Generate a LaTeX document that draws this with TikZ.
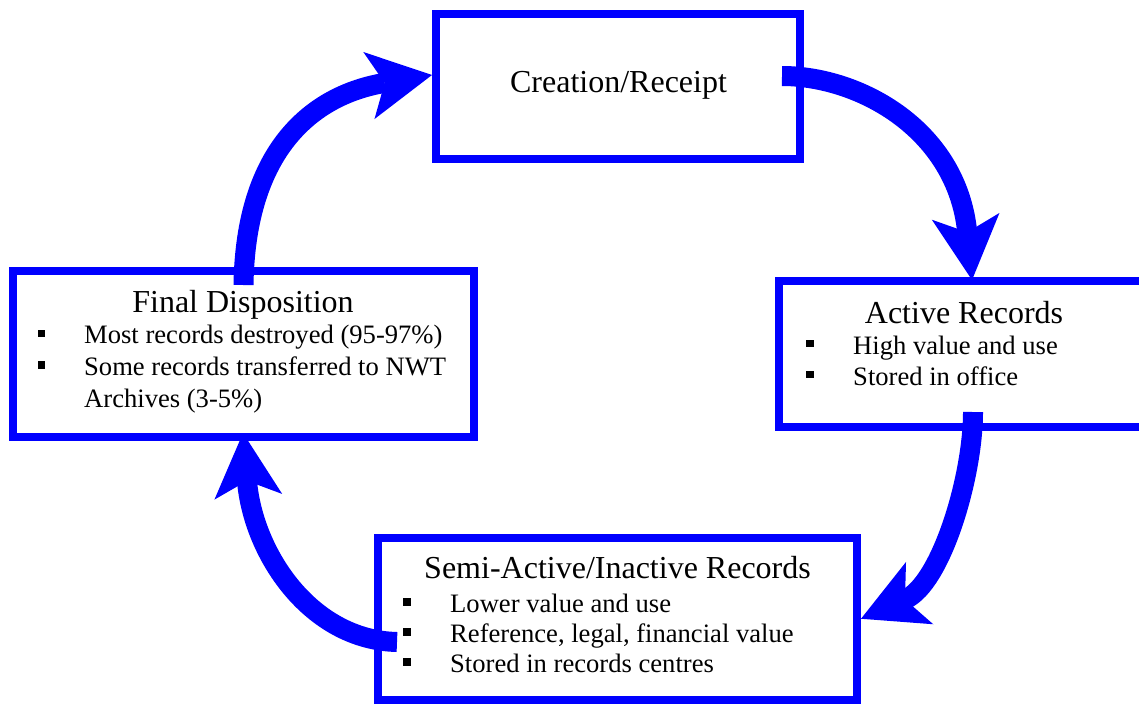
\documentclass[tikz,border=0pt]{standalone}
\usepackage{fontspec}
\setmainfont{Liberation Serif}
\usetikzlibrary{arrows.meta}
\definecolor{rblue}{RGB}{0,0,255}
\begin{document}
\begin{tikzpicture}[x=1pt,y=-1pt,
  box/.style={draw=rblue, line width=8pt, rectangle, inner sep=0pt},
  ttl/.style={anchor=base, inner sep=0pt, font=\fontsize{32}{38}\selectfont},
  itm/.style={anchor=base west, inner sep=0pt, font=\fontsize{26.6}{31}\selectfont},
  bul/.style={fill=black, minimum size=7.5pt, inner sep=0pt, rectangle},
  cyc/.style={draw=rblue, line width=20pt, -{Stealth[length=64pt,width=68pt,inset=16pt,line width=0pt]}}
]
\useasboundingbox (0,0) rectangle (1139,704);
% boxes
\node[box, minimum width=364pt, minimum height=145pt] (c) at (618,86.5) {};
\node[box, minimum width=381pt, minimum height=146pt] (a) at (969.5,354) {};
\node[box, minimum width=479pt, minimum height=162.5pt] (b) at (617.5,618.75) {};
\node[box, minimum width=461pt, minimum height=165.5pt] (f) at (243.5,353.75) {};
% arrows
\draw[cyc] ([yshift=-18pt]f.north) .. controls +(2,-135) and +(-120,20) .. ([yshift=11.5pt]c.west);
\draw[cyc] ([shift={(-22pt,10.5pt)}]c.east) .. controls +(78,0) and +(-15,-150) .. ([shift={(2.5pt,-3pt)}]a.north);
\draw[cyc] ([shift={(3.5pt,19pt)}]a.south) .. controls +(0,65) and +(80,-35) .. (b.east);
\draw[cyc] ([shift={(23pt,-23.25pt)}]b.west) .. controls +(-87,-2) and +(10,120) .. ([shift={(-0.5pt,7.5pt)}]f.south);
% texts
\node[ttl] (ct) at (618.5,92) {Creation/Receipt};
\node[ttl] (at) at (964,323) {Active Records};
\node[bul] (ab1) at (810,343.5) {};
\node[itm] (ai1) at (853,354) {High value and use};
\node[bul] (ab2) at (810,374.5) {};
\node[itm] (ai2) at (853,385) {Stored in office};
\node[ttl] (ft) at (243,312) {Final Disposition};
\node[bul] (fb1) at (41.5,333.5) {};
\node[itm] (fi1) at (84,343) {Most records destroyed (95-97\%)};
\node[bul] (fb2) at (41.5,365) {};
\node[itm] (fi2) at (84,375) {Some records transferred to NWT};
\node[itm] (fi3) at (84,407) {Archives (3-5\%)};
\node[ttl] (bt) at (617.5,578) {Semi-Active/Inactive Records};
\node[bul] (bb1) at (407,602) {};
\node[itm] (bi1) at (450,612) {Lower value and use};
\node[bul] (bb2) at (407,632) {};
\node[itm] (bi2) at (450,642) {Reference, legal, financial value};
\node[bul] (bb3) at (407,662) {};
\node[itm] (bi3) at (450,672) {Stored in records centres};
\end{tikzpicture}
\end{document}
